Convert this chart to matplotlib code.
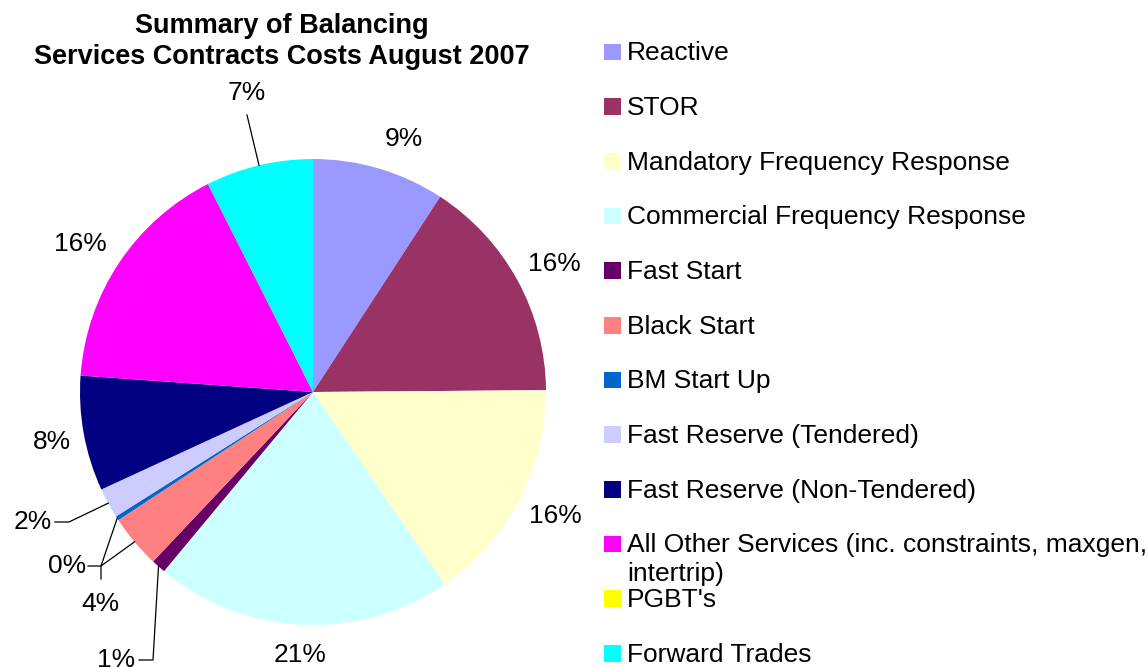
import matplotlib
matplotlib.use("Agg")
import matplotlib.pyplot as plt
from matplotlib.patches import Rectangle
import numpy as np

plt.rcParams['font.family'] = ['Liberation Sans', 'DejaVu Sans']

# ---- data ----
categories = ["Reactive", "STOR", "Mandatory Frequency Response",
              "Commercial Frequency Response", "Fast Start", "Black Start",
              "BM Start Up", "Fast Reserve (Tendered)", "Fast Reserve (Non-Tendered)",
              "All Other Services (inc. constraints, maxgen,\nintertrip)", "PGBT's",
              "Forward Trades"]
shares = [9.2, 15.7, 15.6, 20.6, 1.0, 3.7, 0.3, 2.1, 8.0, 16.45, 0.0, 7.45]
colors = ["#9999FF", "#993366", "#FFFFCC", "#CCFFFF", "#660066", "#FF8080",
          "#0066CC", "#CCCCFF", "#000080", "#FF00FF", "#FFFF00", "#00FFFF"]
title_lines = ["Summary of Balancing", "Services Contracts Costs August 2007"]

W, H = 1147, 667
fig = plt.figure(figsize=(W / 100, H / 100), dpi=100)
ax = fig.add_axes([0, 0, 1, 1])

def Y(y):
    return H - y

cx, cy, R = 313, Y(392), 233
wedges, _ = ax.pie(shares, colors=colors, startangle=90, counterclock=False,
                   center=(cx, cy), radius=R, wedgeprops=dict(linewidth=0))
ax.set_xlim(0, W)
ax.set_ylim(0, H)
ax.set_aspect('auto')
ax.axis('off')

total = sum(shares)
pct = ["%d%%" % int(round(s / total * 100)) for s in shares]

def arc_point(i, r=R):
    w = wedges[i]
    ang = np.deg2rad((w.theta1 + w.theta2) / 2)
    return cx + r * np.cos(ang), cy + r * np.sin(ang)

fs = 19
# labels without leaders: index -> (x, y image coords)
plain = {0: (404, 139), 1: (554, 264), 2: (555, 516), 3: (300, 655),
         8: (52, 442), 9: (80, 244)}
for i, (x, y) in plain.items():
    ax.text(x, Y(y), pct[i], fontsize=fs, ha='center', va='center')

lk = dict(color='black', lw=0.9)
# Forward Trades 7%
px, py = arc_point(11)
ax.plot([px, 247], [py, Y(115)], **lk)
ax.text(247, Y(93), pct[11], fontsize=fs, ha='center', va='center')
# Fast Start 1%
px, py = arc_point(4)
ax.plot([px, 153, 139], [py, Y(660), Y(660)], **lk)
ax.text(135, Y(667), pct[4], fontsize=fs, ha='right', va='baseline')
# BM Start Up 0%
px, py = arc_point(6)
ax.plot([px, 101, 88], [py, Y(566), Y(566)], **lk)
ax.text(86, Y(566), pct[6], fontsize=fs, ha='right', va='center')
# Black Start 4%
px, py = arc_point(5)
ax.plot([px, 101, 101], [py, Y(566), Y(579)], **lk)
ax.text(100, Y(604), pct[5], fontsize=fs, ha='center', va='center')
# Fast Reserve (Tendered) 2%
px, py = arc_point(7)
ax.plot([px, 69, 55], [py, Y(522), Y(522)], **lk)
ax.text(52, Y(522), pct[7], fontsize=fs, ha='right', va='center')

# title
for line, yb in zip(title_lines, [33, 63.5]):
    ax.text(282, Y(yb), line, fontsize=19.5, fontweight='bold', ha='center',
            va='baseline')

# legend (manual to mimic Excel layout)
row0, step = 52, 54.66
for i, (name, c) in enumerate(zip(categories, colors)):
    yc = row0 + i * step
    ax.add_patch(Rectangle((604, Y(yc + 8.3)), 16.6, 16.6, facecolor=c, edgecolor='none'))
    for k, part in enumerate(name.split('\n')):
        ax.text(627, Y(yc + 8.5 + 29 * k), part, fontsize=fs, ha='left', va='baseline')

fig.savefig("out.png", dpi=100)
